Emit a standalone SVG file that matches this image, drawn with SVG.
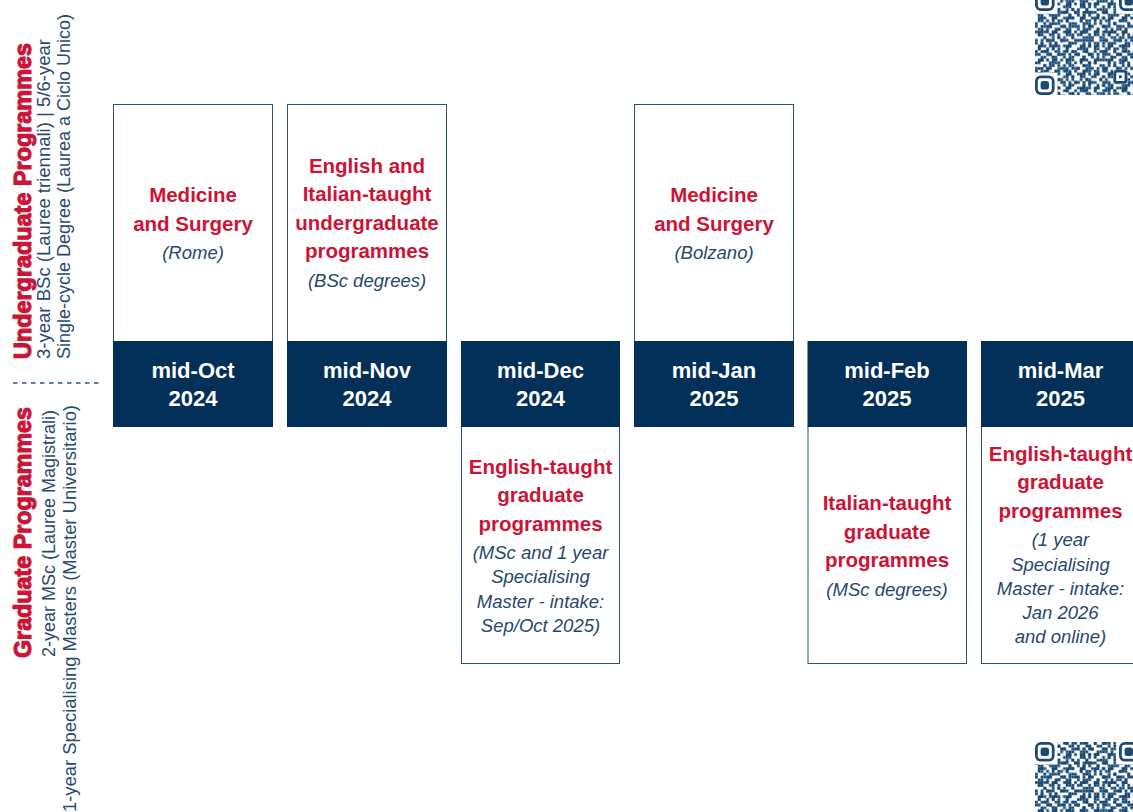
<svg xmlns="http://www.w3.org/2000/svg" width="1133" height="812" viewBox="0 0 1133 812">
<style>
.box{fill:#ffffff;stroke:#2f5378;stroke-width:1}
.bar{fill:#033059}
.date{font-family:"Liberation Sans",Arial,sans-serif;font-weight:700;font-size:22px;fill:#ffffff;text-anchor:middle}
.red{font-family:"Liberation Sans",Arial,sans-serif;font-weight:700;font-size:20.5px;fill:#cc1436;text-anchor:middle}
.it{font-family:"Liberation Sans",Arial,sans-serif;font-style:italic;font-size:18.5px;fill:#28486e;text-anchor:middle}
.side-red{font-family:"Liberation Sans",Arial,sans-serif;font-weight:900;font-size:23.5px;fill:#cc1436;stroke:#cc1436;stroke-width:1.1;stroke-linejoin:round}
.side{font-family:"Liberation Sans",Arial,sans-serif;font-size:17.5px;fill:#2a4a70}
.qr{fill:#1b4a74}
.fring{fill:none;stroke:#1b4a74;stroke-width:1}
.fin{fill:#1b4a74}
.clr{fill:#ffffff}
</style>
<defs>
<pattern id="qrA" x="0" y="0" width="7" height="7" patternUnits="userSpaceOnUse">
<path class="qr" d="M0 0h1v1h-1zM3 0h2v1h-2zM1 1h1v1h-1zM5 1h1v1h-1zM3 2h1v1h-1zM6 2h1v1h-1zM2 3h1v1h-1zM4 3h1v1h-1zM0 4h1v1h-1zM5 4h1v2h-1zM3 5h1v1h-1zM1 6h1v1h-1zM4 6h1v1h-1z"/>
</pattern>
<pattern id="qrB" x="0" y="0" width="5" height="5" patternUnits="userSpaceOnUse">
<path class="qr" d="M1 0h1v1h-1zM3 1h1v1h-1zM0 2h1v1h-1zM4 2h1v1h-1zM2 3h1v1h-1zM1 4h2v1h-2z"/>
</pattern>
<pattern id="qrC" x="0" y="0" width="11" height="3" patternUnits="userSpaceOnUse">
<path class="qr" d="M2 0h1v1h-1zM8 1h1v1h-1zM6 2h1v1h-1z"/>
</pattern>
<g id="qrbody">
<rect x="0" y="0" width="37" height="37" fill="url(#qrA)"/>
<rect x="0" y="0" width="37" height="37" fill="url(#qrB)"/>
<rect x="0" y="0" width="37" height="37" fill="url(#qrC)"/>
<rect class="clr" x="0" y="0" width="8" height="8"/>
<rect class="clr" x="29" y="0" width="8" height="8"/>
<rect class="clr" x="0" y="29" width="8" height="8"/>
<rect class="fring" x="0.5" y="0.5" width="6" height="6" rx="1.6"/>
<rect class="fin" x="2" y="2" width="3" height="3" rx="0.9"/>
<rect class="fring" x="30.5" y="0.5" width="6" height="6" rx="1.6"/>
<rect class="fin" x="32" y="2" width="3" height="3" rx="0.9"/>
<rect class="fring" x="0.5" y="30.5" width="6" height="6" rx="1.6"/>
<rect class="fin" x="2" y="32" width="3" height="3" rx="0.9"/>
<rect class="clr" x="28" y="28" width="5" height="5"/>
<rect class="fring" x="28.5" y="28.5" width="4" height="4" rx="0.8"/>
<rect class="fin" x="30" y="30" width="1" height="1"/>
</g>
</defs>

<g id="side-labels">
<text class="side-red" transform="translate(31,359) rotate(-90)" textLength="316" lengthAdjust="spacingAndGlyphs">Undergraduate Programmes</text>
<text class="side" transform="translate(50,359) rotate(-90)" textLength="320" lengthAdjust="spacingAndGlyphs">3-year BSc (Lauree triennali) | 5/6-year</text>
<text class="side" transform="translate(70,359) rotate(-90)" textLength="345" lengthAdjust="spacingAndGlyphs">Single-cycle Degree (Laurea a Ciclo Unico)</text>
<line x1="13" y1="383" x2="100" y2="383" stroke="#2f5378" stroke-width="1.5" stroke-dasharray="4.5 4.5"/>
<text class="side-red" transform="translate(31,658) rotate(-90)" textLength="251" lengthAdjust="spacingAndGlyphs">Graduate Programmes</text>
<text class="side" transform="translate(55,657) rotate(-90)" textLength="247" lengthAdjust="spacingAndGlyphs">2-year MSc (Lauree Magistrali)</text>
<text class="side" transform="translate(76,812) rotate(-90)" textLength="407" lengthAdjust="spacingAndGlyphs">1-year Specialising Masters (Master Universitario)</text>
</g>

<g id="node-oct">
<rect class="box" x="113.5" y="104.5" width="159" height="237"/>
<rect class="bar" x="113" y="341" width="160" height="86"/>
<text class="red" x="193" y="202">Medicine</text>
<text class="red" x="193" y="230.5">and Surgery</text>
<text class="it" x="193" y="258.5">(Rome)</text>
<text class="date" x="193" y="377.5">mid-Oct</text>
<text class="date" x="193" y="405.5">2024</text>
</g>

<g id="node-nov">
<rect class="box" x="287.5" y="104.5" width="159" height="237"/>
<rect class="bar" x="287" y="341" width="160" height="86"/>
<text class="red" x="367" y="173">English and</text>
<text class="red" x="367" y="201">Italian-taught</text>
<text class="red" x="367" y="229.5">undergraduate</text>
<text class="red" x="367" y="258">programmes</text>
<text class="it" x="367" y="287">(BSc degrees)</text>
<text class="date" x="367" y="377.5">mid-Nov</text>
<text class="date" x="367" y="405.5">2024</text>
</g>

<g id="node-dec">
<rect class="box" x="461.5" y="426.5" width="158" height="237"/>
<rect class="bar" x="461" y="341" width="159" height="86"/>
<text class="date" x="540.5" y="377.5">mid-Dec</text>
<text class="date" x="540.5" y="405.5">2024</text>
<text class="red" x="540.5" y="473.5">English-taught</text>
<text class="red" x="540.5" y="502">graduate</text>
<text class="red" x="540.5" y="530.5">programmes</text>
<text class="it" x="540.5" y="558.5">(MSc and 1 year</text>
<text class="it" x="540.5" y="583">Specialising</text>
<text class="it" x="540.5" y="607.5">Master - intake:</text>
<text class="it" x="540.5" y="632">Sep/Oct 2025)</text>
</g>

<g id="node-jan">
<rect class="box" x="634.5" y="104.5" width="159" height="237"/>
<rect class="bar" x="634" y="341" width="160" height="86"/>
<text class="red" x="714" y="202">Medicine</text>
<text class="red" x="714" y="230.5">and Surgery</text>
<text class="it" x="714" y="258.5">(Bolzano)</text>
<text class="date" x="714" y="377.5">mid-Jan</text>
<text class="date" x="714" y="405.5">2025</text>
</g>

<g id="node-feb">
<rect class="box" x="808" y="426.5" width="158.5" height="237"/>
<rect class="bar" x="807.5" y="341" width="159.5" height="86"/>
<text class="date" x="887" y="377.5">mid-Feb</text>
<text class="date" x="887" y="405.5">2025</text>
<text class="red" x="887" y="510">Italian-taught</text>
<text class="red" x="887" y="538.5">graduate</text>
<text class="red" x="887" y="567">programmes</text>
<text class="it" x="887" y="595.5">(MSc degrees)</text>
</g>

<g id="node-mar">
<rect class="box" x="981.5" y="426.5" width="159" height="237"/>
<rect class="bar" x="981" y="341" width="160" height="86"/>
<text class="date" x="1060.5" y="377.5">mid-Mar</text>
<text class="date" x="1060.5" y="405.5">2025</text>
<text class="red" x="1060.5" y="460.5">English-taught</text>
<text class="red" x="1060.5" y="489">graduate</text>
<text class="red" x="1060.5" y="517.5">programmes</text>
<text class="it" x="1060.5" y="546">(1 year</text>
<text class="it" x="1060.5" y="570.5">Specialising</text>
<text class="it" x="1060.5" y="595">Master - intake:</text>
<text class="it" x="1060.5" y="619">Jan 2026</text>
<text class="it" x="1060.5" y="643">and online)</text>
</g>

<g id="connectors"/>

<g id="qr-top" transform="translate(1035,-8.6) scale(2.8)">
<use href="#qrbody"/>
</g>
<g id="qr-bottom" transform="translate(1035,742) scale(2.8)">
<use href="#qrbody"/>
</g>
</svg>
